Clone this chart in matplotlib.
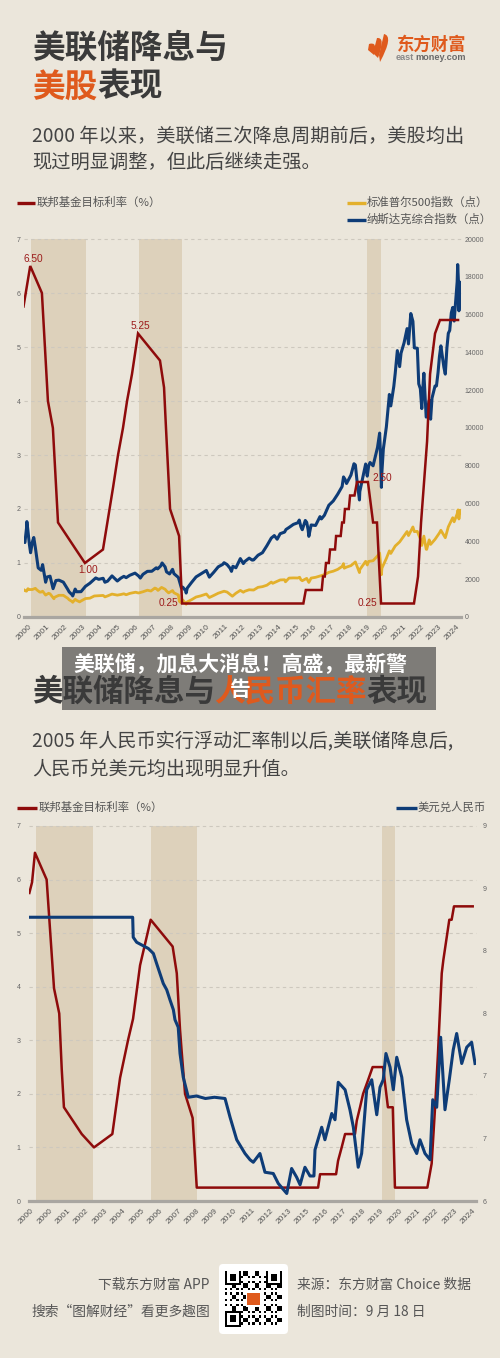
import numpy as np
import matplotlib
matplotlib.use('Agg')
import matplotlib.pyplot as plt
from matplotlib.patches import FancyBboxPatch, Rectangle, PathPatch
from matplotlib.path import Path
from matplotlib.lines import Line2D

# ---------------- data ----------------
years1 = [str(y) for y in range(2000, 2025)]
years2 = ['2000', '2000'] + [str(y) for y in range(2001, 2014)] + [str(y) for y in range(2015, 2025)]

fed_ticks = [0, 1, 2, 3, 4, 5, 6, 7]
stock_ticks = [0, 2000, 4000, 6000, 8000, 10000, 12000, 14000, 16000, 18000, 20000]
cny_ticks = [6.0, 6.5, 7.0, 7.5, 8.0, 8.5, 9.0]
cny_ticklabels = ['6', '7', '7', '8', '8', '9', '9']

# Fed target rate (chart 1)
fed1_t = [2000.0, 2000.38, 2001.04, 2001.38, 2001.66, 2001.95, 2002.96, 2003.47, 2004.49, 2005.06,
          2005.34, 2005.62, 2005.85, 2006.13, 2006.47, 2007.71, 2007.94, 2008.05, 2008.28, 2008.79,
          2008.96, 2015.81, 2015.95, 2016.85, 2016.92, 2017.02, 2017.09, 2017.25, 2017.32, 2017.60,
          2017.66, 2017.92, 2018.00, 2018.10, 2018.16, 2018.38, 2018.45, 2018.70, 2018.84, 2019.46,
          2019.75, 2019.97, 2020.20, 2022.06, 2022.29, 2022.46, 2022.63, 2022.80, 2022.97, 2023.25,
          2023.53, 2024.55]
fed1_v = [5.75, 6.50, 6.00, 4.00, 3.50, 1.75, 1.25, 1.00, 1.25, 2.40,
          3.00, 3.50, 4.00, 4.50, 5.25, 4.75, 4.25, 3.50, 2.00, 1.50,
          0.25, 0.25, 0.50, 0.50, 0.75, 0.75, 1.00, 1.00, 1.25, 1.25,
          1.50, 1.50, 1.75, 1.75, 2.00, 2.00, 2.25, 2.25, 2.50, 2.50,
          1.75, 1.75, 0.25, 0.25, 0.75, 1.75, 2.50, 3.25, 4.50, 5.25,
          5.50, 5.50]

# Nasdaq Composite
ndx_t = [2000.00, 2000.08, 2000.17, 2000.19, 2000.25, 2000.33, 2000.40, 2000.50, 2000.58, 2000.67,
         2000.83, 2001.00, 2001.08, 2001.25, 2001.33, 2001.50, 2001.67, 2001.83, 2002.00, 2002.25,
         2002.50, 2002.58, 2002.75, 2002.78, 2002.92, 2003.00, 2003.17, 2003.25, 2003.50, 2003.75,
         2004.00, 2004.08, 2004.25, 2004.50, 2004.60, 2004.75, 2005.00, 2005.30, 2005.50, 2005.67,
         2005.80, 2006.00, 2006.30, 2006.50, 2006.60, 2006.75, 2007.00, 2007.17, 2007.25, 2007.50,
         2007.58, 2007.75, 2007.83, 2008.00, 2008.08, 2008.25, 2008.42, 2008.50, 2008.75, 2008.92,
         2009.00, 2009.17, 2009.19, 2009.25, 2009.50, 2009.75, 2010.00, 2010.33, 2010.50, 2010.75,
         2011.00, 2011.25, 2011.33, 2011.50, 2011.67, 2011.75, 2011.83, 2012.00, 2012.25, 2012.42,
         2012.50, 2012.75, 2012.92, 2013.00, 2013.25, 2013.50, 2013.75, 2014.00, 2014.17, 2014.33,
         2014.50, 2014.75, 2014.83, 2015.00, 2015.25, 2015.50, 2015.58, 2015.67, 2015.75, 2015.92,
         2016.00, 2016.08, 2016.12, 2016.25, 2016.50, 2016.75, 2016.83, 2017.00, 2017.25, 2017.50,
         2017.75, 2018.00, 2018.08, 2018.17, 2018.25, 2018.50, 2018.67, 2018.75, 2018.83, 2018.98,
         2019.00, 2019.25, 2019.33, 2019.42, 2019.50, 2019.58, 2019.75, 2020.00, 2020.12, 2020.17,
         2020.22, 2020.25, 2020.33, 2020.50, 2020.67, 2020.75, 2020.92, 2021.00, 2021.12, 2021.25,
         2021.33, 2021.50, 2021.67, 2021.75, 2021.88, 2022.00, 2022.08, 2022.25, 2022.33, 2022.42,
         2022.50, 2022.58, 2022.62, 2022.75, 2022.83, 2022.92, 2023.00, 2023.08, 2023.25, 2023.33,
         2023.42, 2023.50, 2023.58, 2023.75, 2023.83, 2023.92, 2024.00, 2024.08, 2024.17, 2024.25,
         2024.33, 2024.42, 2024.50, 2024.53, 2024.58, 2024.60, 2024.67, 2024.70]
ndx_v = [4069, 3940, 4696, 5048, 4573, 3860, 3400, 3966, 4206, 3673,
         2598, 2470, 2772, 1840, 2116, 2160, 1499, 1930, 1950, 1845,
         1463, 1328, 1172, 1114, 1478, 1335, 1337, 1341, 1623, 1787,
         2003, 2066, 1994, 2048, 1838, 1897, 2175, 1904, 2057, 2151,
         2082, 2205, 2322, 2172, 2060, 2258, 2415, 2416, 2421, 2603,
         2546, 2701, 2859, 2652, 2389, 2279, 2522, 2293, 2092, 1536,
         1577, 1377, 1268, 1528, 1835, 2122, 2269, 2461, 2109, 2369,
         2653, 2781, 2873, 2774, 2579, 2415, 2684, 2605, 3091, 2827,
         2935, 3116, 3010, 3020, 3268, 3403, 3771, 4177, 4308, 4115,
         4408, 4493, 4631, 4736, 4901, 4987, 5128, 4777, 4620, 5108,
         5007, 4614, 4267, 4870, 4843, 5312, 5189, 5383, 5912, 6140,
         6496, 6903, 7411, 7273, 7063, 7510, 8109, 8046, 7305, 6192,
         6635, 7729, 8095, 7453, 8006, 8175, 7999, 8973, 9731, 8567,
         6860, 7700, 8890, 10058, 11775, 11168, 12199, 12888, 14095, 13247,
         13962, 14504, 15259, 14448, 16057, 15645, 14240, 14220, 12335, 12081,
         11028, 12391, 12900, 10576, 10988, 11468, 10466, 11585, 12222, 12227,
         12935, 13788, 14346, 13219, 12851, 14226, 15011, 15164, 16092, 16379,
         15658, 16735, 17733, 18647, 17600, 16200, 17714, 17600]

# S&P 500
spx_t = [2000.00, 2000.08, 2000.17, 2000.25, 2000.33, 2000.50, 2000.67, 2000.75, 2000.92, 2001.00,
         2001.08, 2001.25, 2001.42, 2001.50, 2001.72, 2001.75, 2002.00, 2002.25, 2002.50, 2002.58,
         2002.75, 2002.78, 2002.92, 2003.00, 2003.17, 2003.25, 2003.50, 2003.75, 2004.00, 2004.25,
         2004.50, 2004.60, 2004.75, 2005.00, 2005.30, 2005.50, 2005.67, 2005.80, 2006.00, 2006.33,
         2006.50, 2006.75, 2007.00, 2007.20, 2007.42, 2007.50, 2007.60, 2007.75, 2007.80, 2008.00,
         2008.08, 2008.20, 2008.42, 2008.50, 2008.75, 2008.80, 2008.90, 2009.00, 2009.19, 2009.25,
         2009.50, 2009.75, 2010.00, 2010.33, 2010.50, 2010.75, 2011.00, 2011.33, 2011.50, 2011.75,
         2011.80, 2012.00, 2012.25, 2012.42, 2012.50, 2012.75, 2013.00, 2013.25, 2013.50, 2013.75,
         2014.00, 2014.08, 2014.50, 2014.75, 2014.80, 2015.00, 2015.25, 2015.50, 2015.60, 2015.67,
         2015.75, 2016.00, 2016.12, 2016.25, 2016.50, 2016.75, 2017.00, 2017.25, 2017.50, 2017.75,
         2018.00, 2018.08, 2018.12, 2018.25, 2018.50, 2018.75, 2018.98, 2019.00, 2019.25, 2019.33,
         2019.42, 2019.50, 2019.75, 2020.00, 2020.12, 2020.22, 2020.25, 2020.50, 2020.67, 2020.75,
         2021.00, 2021.25, 2021.50, 2021.67, 2021.75, 2022.00, 2022.08, 2022.25, 2022.42, 2022.50,
         2022.62, 2022.75, 2022.78, 2022.92, 2023.00, 2023.25, 2023.50, 2023.58, 2023.83, 2024.00,
         2024.25, 2024.33, 2024.50, 2024.55, 2024.60, 2024.67, 2024.70]
spx_v = [1455, 1394, 1366, 1499, 1452, 1455, 1517, 1437, 1315, 1320,
         1366, 1160, 1256, 1224, 966, 1041, 1148, 1147, 990, 912,
         815, 777, 936, 880, 800, 848, 975, 996, 1112, 1126,
         1141, 1064, 1115, 1212, 1157, 1191, 1229, 1177, 1248, 1311,
         1270, 1336, 1418, 1375, 1531, 1503, 1406, 1527, 1565, 1468,
         1378, 1276, 1400, 1280, 1166, 840, 752, 903, 676, 798,
         919, 1057, 1115, 1217, 1031, 1141, 1258, 1364, 1321, 1131,
         1099, 1258, 1408, 1310, 1362, 1441, 1426, 1569, 1606, 1682,
         1848, 1782, 1960, 1972, 1862, 2059, 2068, 2063, 2104, 1972,
         1920, 2044, 1829, 2060, 2099, 2168, 2239, 2363, 2423, 2519,
         2674, 2824, 2581, 2641, 2718, 2914, 2351, 2507, 2834, 2946,
         2752, 2942, 2977, 3231, 3386, 2237, 2585, 3100, 3500, 3363,
         3756, 3973, 4298, 4523, 4308, 4766, 4516, 4530, 4132, 3785,
         4280, 3586, 3577, 4080, 3840, 4109, 4450, 4589, 4194, 4770,
         5254, 5036, 5460, 5667, 5186, 5648, 5620]

# Fed target rate (chart 2)
fed2_t = [2000.02, 2000.17, 2000.33, 2000.98, 2001.39, 2001.68, 2001.82, 2001.94, 2002.93, 2003.61,
          2004.63, 2005.06, 2005.50, 2005.78, 2006.17, 2006.76, 2007.98, 2008.21, 2008.39, 2008.48,
          2008.67, 2009.09, 2009.32, 2016.06, 2016.17, 2017.06, 2017.17, 2017.37, 2017.56, 2018.11,
          2018.21, 2018.39, 2018.56, 2018.83, 2019.09, 2019.67, 2019.94, 2020.21, 2020.33, 2022.13,
          2022.37, 2022.56, 2022.72, 2022.93, 2023.02, 2023.35, 2023.48, 2023.61, 2024.65]
fed2_v = [5.75, 5.95, 6.50, 6.00, 3.97, 3.50, 2.45, 1.75, 1.25, 1.00,
          1.25, 2.30, 3.00, 3.40, 4.40, 5.25, 4.75, 4.25, 3.20, 2.80,
          2.00, 1.55, 0.25, 0.25, 0.50, 0.50, 0.75, 1.00, 1.25, 1.25,
          1.50, 1.75, 2.00, 2.25, 2.50, 2.50, 1.75, 1.75, 0.25, 0.25,
          0.70, 1.75, 2.75, 4.25, 4.50, 5.25, 5.25, 5.50, 5.50]

# USD / CNY (chart 2)
cny_t = [2000.00, 2005.76, 2005.79, 2005.98, 2006.63, 2006.91, 2007.09, 2007.46, 2007.65, 2007.83,
         2008.02, 2008.11, 2008.29, 2008.39, 2008.57, 2008.85, 2009.30, 2009.80, 2010.30, 2010.89,
         2011.17, 2011.54, 2012.00, 2012.28, 2012.46, 2012.83, 2013.11, 2013.57, 2013.85, 2014.32,
         2014.59, 2014.87, 2015.06, 2015.33, 2015.61, 2015.83, 2015.89, 2016.26, 2016.44, 2016.82,
         2017.00, 2017.18, 2017.56, 2017.83, 2018.02, 2018.29, 2018.48, 2018.76, 2019.04, 2019.32,
         2019.50, 2019.68, 2019.83, 2020.06, 2020.24, 2020.43, 2020.71, 2020.98, 2021.26, 2021.54,
         2021.72, 2022.00, 2022.28, 2022.43, 2022.65, 2022.87, 2023.11, 2023.35, 2023.57, 2023.76,
         2024.04, 2024.32, 2024.59, 2024.78]
cny_v = [8.27, 8.27, 8.11, 8.07, 8.02, 7.98, 7.90, 7.74, 7.69, 7.61,
         7.53, 7.45, 7.39, 7.18, 6.99, 6.83, 6.84, 6.82, 6.83, 6.82,
         6.67, 6.49, 6.38, 6.33, 6.31, 6.38, 6.23, 6.22, 6.14, 6.06,
         6.26, 6.19, 6.13, 6.27, 6.20, 6.20, 6.41, 6.59, 6.49, 6.70,
         6.65, 6.95, 6.89, 6.73, 6.59, 6.27, 6.38, 6.89, 6.97, 6.69,
         6.91, 6.97, 7.18, 7.07, 6.89, 7.15, 6.99, 6.65, 6.46, 6.38,
         6.49, 6.38, 6.33, 6.81, 6.75, 7.31, 6.73, 6.97, 7.21, 7.34,
         7.10, 7.23, 7.27, 7.10]

shade1 = [(2000.42, 2003.53), (2006.52, 2008.96), (2019.41, 2020.20)]
shade2 = [(2000.37, 2003.54), (2006.76, 2009.32), (2019.63, 2020.33)]

# Fed labels: (x, y, offset in points)
fed1_labels = [(2000.38, 6.50, (2, 5)), (2006.47, 5.25, (1.5, 5.4)), (2003.47, 1.00, (2, -5)),
               (2008.96, 0.25, (-10, 0)), (2019.46, 2.50, (10, 3)), (2020.20, 0.25, (-10, 0))]

# ---------------- style ----------------
BG = '#ebe6db'
SHADE = '#ddd1bb'
RED = '#8e0b0b'
BLUE = '#0e3c77'
GOLD = '#e3b02c'
ORANGE = '#df5a1d'
DARK = '#3a3a3a'
TXT = '#555555'
GRID = '#cdc8be'
BASE = '#a9a6a1'
CJK = ['Noto Sans CJK SC', 'DejaVu Sans']
NUM = ['Liberation Sans', 'DejaVu Sans']
plt.rcParams['font.family'] = CJK

W, H = 500, 1358
fig = plt.figure(figsize=(5, 13.58), dpi=100)
fig.patch.set_facecolor(BG)


def X(x):
    return x / W


def Y(y):
    return 1 - y / H


def ftext(x, y, s, **kw):
    kw.setdefault('va', 'center')
    fig.text(X(x), Y(y), s, **kw)


def legline(x0, x1, y, color):
    fig.add_artist(Line2D([X(x0), X(x1)], [Y(y), Y(y)], color=color, lw=2.4,
                          solid_capstyle='butt', transform=fig.transFigure))


# ---------------- header 1 ----------------
ftext(32, 48, '美联储降息与', fontsize=23.5, fontweight='bold', color=DARK)
ftext(32, 87, '美股', fontsize=23.5, fontweight='bold', color=ORANGE)
ftext(97, 87, '表现', fontsize=23.5, fontweight='bold', color=DARK)
ftext(32, 136, '2000 年以来，美联储三次降息周期前后，美股均出', fontsize=13.85, color='#444444')
ftext(32, 162, '现过明显调整，但此后继续走强。', fontsize=13.85, color='#444444')

# logo
ftext(397, 45, '东方财富', fontsize=12.5, fontweight='bold', color=ORANGE)
ftext(396, 58, 'east', fontsize=6.6, fontweight='bold', color='#8a8a8a', family=NUM)
ftext(415, 58, 'money.com', fontsize=6.6, fontweight='bold', color='#6a6a6a', family=NUM)
for pts in ([(384, 34), (394, 36), (380, 62), (379, 55)],
            [(377, 38), (386, 37), (378, 58), (373, 53)],
            [(369, 44), (378, 41), (374, 55), (368, 50)]):
    verts = [(X(a), Y(b)) for a, b in pts] + [(X(pts[0][0]), Y(pts[0][1]))]
    codes = [Path.MOVETO, Path.CURVE3, Path.CURVE3, Path.LINETO, Path.CLOSEPOLY]
    fig.add_artist(PathPatch(Path(verts, codes), facecolor=ORANGE, edgecolor='none',
                             transform=fig.transFigure))

# ---------------- chart 1 ----------------
legline(17, 35, 203, RED)
ftext(37, 202, '联邦基金目标利率（%）', fontsize=8.2, color=TXT)
legline(347, 366, 203, GOLD)
ftext(367, 202, '标准普尔500指数（点）', fontsize=8.2, color=TXT)
legline(347, 366, 220, BLUE)
ftext(367, 219, '纳斯达克综合指数（点）', fontsize=8.2, color=TXT)

ax1 = fig.add_axes([X(23.5), Y(617), (460.7 - 23.5) / W, (617 - 239) / H])
ax1b = ax1.twinx()
ax1.set_zorder(3)
ax1b.set_zorder(2)
ax1.patch.set_visible(False)
ax1b.patch.set_visible(False)
ax1.set_xlim(2000, 2024.7)
ax1.set_ylim(0, 7)
ax1b.set_ylim(0, 20000)

for a, b in shade1:
    ax1b.axvspan(a, b, color=SHADE, lw=0, zorder=0)
for v in fed_ticks[1:]:
    ax1b.axhline(v * 20000 / 7, color=GRID, lw=0.8, ls=(0, (3, 3)), zorder=0.5, clip_on=False)

ax1b.plot(spx_t, spx_v, color=GOLD, lw=2.0, solid_joinstyle='round', zorder=2)
ax1b.plot(ndx_t, ndx_v, color=BLUE, lw=2.2, solid_joinstyle='round', zorder=3)
ax1.plot(fed1_t, fed1_v, color=RED, lw=1.8, solid_joinstyle='miter', zorder=4)
for x, y, off in fed1_labels:
    ax1.annotate(f'{y:.2f}', (x, y), xytext=off, textcoords='offset points',
                 ha='center', va='center', fontsize=7.3, color='#9c1b1b', family=NUM, zorder=5)

ax1.set_yticks(fed_ticks)
ax1.set_yticklabels([str(t) for t in fed_ticks], family=NUM)
ax1b.set_yticks(stock_ticks)
ax1b.set_yticklabels([str(t) for t in stock_ticks], family=NUM)
ax1.tick_params(axis='y', length=0, labelsize=5, labelcolor='#666666', pad=2)
ax1b.tick_params(axis='y', length=0, labelsize=5, labelcolor='#666666', pad=3)
ax1.set_xticks(np.linspace(2000.42, 2024.6, len(years1)))
ax1.set_xticklabels(years1, rotation=45, ha='right', va='center', rotation_mode='anchor',
                    fontsize=6, color='#555555', family=NUM)
ax1.tick_params(axis='x', length=0, pad=6)
for ax in (ax1, ax1b):
    for s in ax.spines.values():
        s.set_visible(False)
ax1.spines['bottom'].set_visible(True)
ax1.spines['bottom'].set_color(BASE)
ax1.spines['bottom'].set_linewidth(2.3)

# ---------------- header 2 with overlay ----------------
ftext(32, 692, '美联储降息与', fontsize=22, fontweight='bold', color=DARK)
ftext(214, 692, '人民币汇率', fontsize=22, fontweight='bold', color=ORANGE)
ftext(366, 692, '表现', fontsize=22, fontweight='bold', color=DARK)
fig.add_artist(Rectangle((X(62), Y(710)), (436 - 62) / W, (710 - 647) / H,
                         facecolor='#3c3c3c', alpha=0.62, edgecolor='none',
                         transform=fig.transFigure))
ftext(240, 665, '美联储，加息大消息！高盛，最新警', fontsize=15, fontweight='bold',
      color='white', ha='center')
ftext(240, 690, '告', fontsize=15, fontweight='bold', color='white', ha='center')

ftext(32, 742, '2005 年人民币实行浮动汇率制以后,美联储降息后,', fontsize=13.8, color='#444444')
ftext(32, 769, '人民币兑美元均出现明显升值。', fontsize=13.8, color='#444444')

# ---------------- chart 2 ----------------
legline(17, 37, 808, RED)
ftext(39, 807, '联邦基金目标利率（%）', fontsize=8.2, color=TXT)
legline(396, 417, 808, BLUE)
ftext(418, 807, '美元兑人民币', fontsize=8.2, color=TXT)

ax2 = fig.add_axes([X(29), Y(1201), (476 - 29) / W, (1201 - 826) / H])
ax2b = ax2.twinx()
ax2.patch.set_visible(False)
ax2b.patch.set_visible(False)
ax2.set_xlim(2000, 2000 + (476 - 29) / 18.0)
ax2.set_ylim(0, 7)
ax2b.set_ylim(6, 9)
for a, b in shade2:
    ax2.axvspan(a, b, color=SHADE, lw=0, zorder=0)
for v in fed_ticks[1:]:
    ax2.axhline(v, color=GRID, lw=0.8, ls=(0, (3, 3)), zorder=0.5, clip_on=False)
ax2.plot(fed2_t, fed2_v, color=RED, lw=1.8, zorder=3)
ax2b.plot(cny_t, cny_v, color=BLUE, lw=2.2, solid_joinstyle='round', zorder=3)

ax2.set_yticks(fed_ticks)
ax2.set_yticklabels([str(t) for t in fed_ticks], family=NUM)
ax2b.set_yticks(cny_ticks)
ax2b.set_yticklabels(cny_ticklabels, family=NUM)
ax2.tick_params(axis='y', length=0, labelsize=5, labelcolor='#666666', pad=6)
ax2b.tick_params(axis='y', length=0, labelsize=5, labelcolor='#666666', pad=5)
ax2.set_xticks(np.linspace(2000.22, 2024.78, len(years2)))
ax2.set_xticklabels(years2, rotation=45, ha='right', va='center', rotation_mode='anchor',
                    fontsize=6, color='#555555', family=NUM)
ax2.tick_params(axis='x', length=0, pad=6)
for ax in (ax2, ax2b):
    for s in ax.spines.values():
        s.set_visible(False)
ax2.spines['bottom'].set_visible(True)
ax2.spines['bottom'].set_color(BASE)
ax2.spines['bottom'].set_linewidth(2.3)

# ---------------- footer ----------------
ftext(210, 1285, '下载东方财富 APP', fontsize=9.9, color=TXT, ha='right')
ftext(210, 1312, '搜索“图解财经”看更多趣图', fontsize=9.9, color=TXT, ha='right')
ftext(297, 1285, '来源：东方财富 Choice 数据', fontsize=9.9, color=TXT)
ftext(297, 1312, '制图时间：9 月 18 日', fontsize=9.9, color=TXT)

fig.add_artist(FancyBboxPatch((X(219), Y(1334)), 69 / W, 70 / H,
                              boxstyle='round,pad=0,rounding_size=0.008',
                              facecolor='white', edgecolor='none', transform=fig.transFigure,
                              mutation_aspect=W / H))
n = 25
qr = np.zeros((n, n))
for i in range(n):
    for j in range(n):
        qr[i, j] = 1 if ((i * 7 + j * 13 + i * j * 3) % 5) < 2 else 0
for (r, c) in [(0, 0), (0, n - 7), (n - 7, 0)]:
    qr[r:r + 7, c:c + 7] = 1
    qr[r + 1:r + 6, c + 1:c + 6] = 0
    qr[r + 2:r + 5, c + 2:c + 5] = 1
qax = fig.add_axes([X(225), Y(1328), 57 / W, 58 / H])
qax.set_zorder(10)
qax.imshow(1 - qr, cmap='gray', interpolation='nearest', vmin=0, vmax=1)
qax.add_patch(Rectangle((8.5, 8.5), 7, 7, facecolor='white', edgecolor='none'))
qax.add_patch(Rectangle((9.2, 9.2), 5.6, 5.6, facecolor=ORANGE, edgecolor='none'))
qax.axis('off')

fig.savefig('out.png', dpi=100, facecolor=BG)
